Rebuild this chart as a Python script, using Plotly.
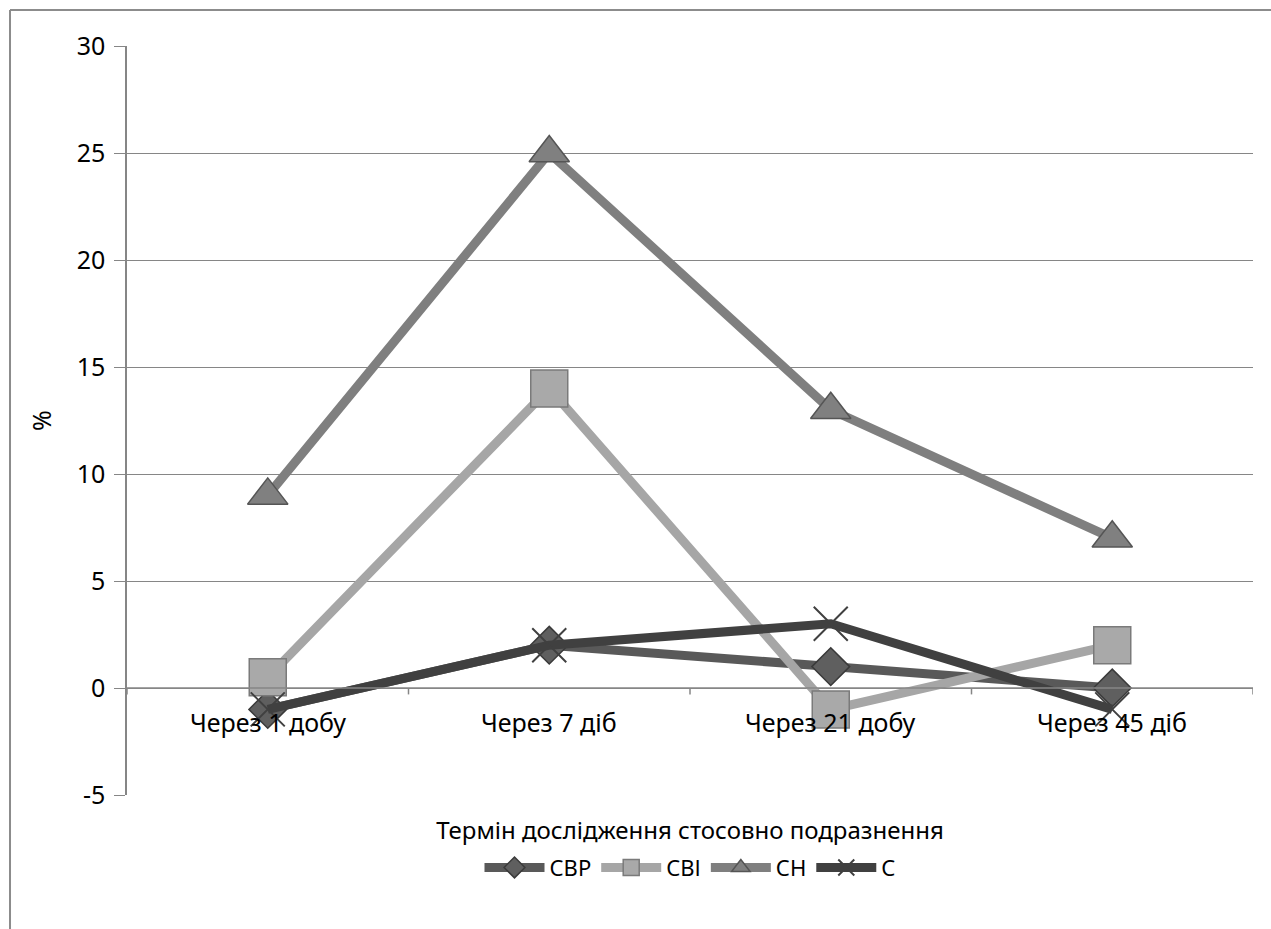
import plotly.graph_objects as go

categories = ["Через 1 добу", "Через 7 діб", "Через 21 добу", "Через 45 діб"]
series_names = ["СВР", "СВІ", "СН", "С"]
s_cbp = [-1, 2, 1, 0]
s_cbi = [0.5, 14, -1, 2]
s_ch = [9, 25, 13, 7]
s_c = [-1, 2, 3, -1]
y_ticks = [-5, 0, 5, 10, 15, 20, 25, 30]
y_ticktext = [str(v) for v in y_ticks]

FONT = "Noto Sans"
FS = 25
line_colors = ["#595959", "#a6a6a6", "#7f7f7f", "#404040"]
marker_fill = ["#5f5f5f", "#a9a9a9", "#808080", "#404040"]
marker_line = ["#3a3a3a", "#7a7a7a", "#555555", "#404040"]
symbols = ["diamond", "square", "triangle-up", "x-thin"]
sizes = [29, 37, 35, 34]
values = [s_cbp, s_cbi, s_ch, s_c]

xs = list(range(len(categories)))
fig = go.Figure()
for i, name in enumerate(series_names):
    fig.add_trace(go.Scatter(
        x=xs, y=values[i], name=name, mode="lines+markers",
        line=dict(color=line_colors[i], width=9),
        marker=dict(symbol=symbols[i], size=sizes[i], color=marker_fill[i],
                    line=dict(color=marker_line[i], width=1.5 if i < 3 else 2)),
    ))

# category labels near y=0
for i, c in enumerate(categories):
    fig.add_annotation(x=i, y=0, xref="x", yref="y", text=c, showarrow=False,
                       yshift=-34, font=dict(family=FONT, size=FS, color="#000"))

# x-axis line at 0 with tick marks at category boundaries
fig.add_shape(type="line", xref="x", yref="y", x0=-0.5, x1=3.5, y0=0, y1=0,
              line=dict(color="#868686", width=1.5))
for b in [-0.5, 0.5, 1.5, 2.5, 3.5]:
    fig.add_shape(type="line", xref="x", yref="y", x0=b, x1=b, y0=0, y1=-0.3,
                  line=dict(color="#868686", width=1.5))

# outer frame (left and top)
fig.add_shape(type="line", xref="paper", yref="paper", x0=-0.1039, x1=-0.1039,
              y0=1.048, y1=-0.2, line=dict(color="#8c8c8c", width=2))
fig.add_shape(type="line", xref="paper", yref="paper", x0=-0.1039, x1=1.02,
              y0=1.048, y1=1.048, line=dict(color="#8c8c8c", width=2))

fig.update_layout(
    width=1271, height=929,
    margin=dict(l=127, r=18, t=46, b=134),
    paper_bgcolor="white", plot_bgcolor="white",
    font=dict(family=FONT, size=FS, color="#000"),
    showlegend=True,
    legend=dict(orientation="h", x=0.5, xanchor="center", y=-0.097, yanchor="middle",
                itemwidth=60, font=dict(family=FONT, size=22), tracegroupgap=0,
                itemsizing="trace"),
    xaxis=dict(range=[-0.5, 3.5], showgrid=False, zeroline=False, showticklabels=False,
               showline=False, ticks="", fixedrange=True,
               title=dict(text="Термін дослідження стосовно подразнення",
                          font=dict(family=FONT, size=24), standoff=27)),
    yaxis=dict(range=[-5, 30], tickvals=y_ticks, ticktext=y_ticktext, showgrid=True,
               gridcolor="#868686", gridwidth=1, zeroline=False, showline=True,
               linecolor="#868686", linewidth=1.5, ticks="outside", ticklen=11,
               tickcolor="#868686", tickfont=dict(family=FONT, size=FS),
               ticklabelstandoff=4,
               title=dict(text="%", font=dict(family=FONT, size=FS), standoff=18)),
)

fig.write_html("out.html")
